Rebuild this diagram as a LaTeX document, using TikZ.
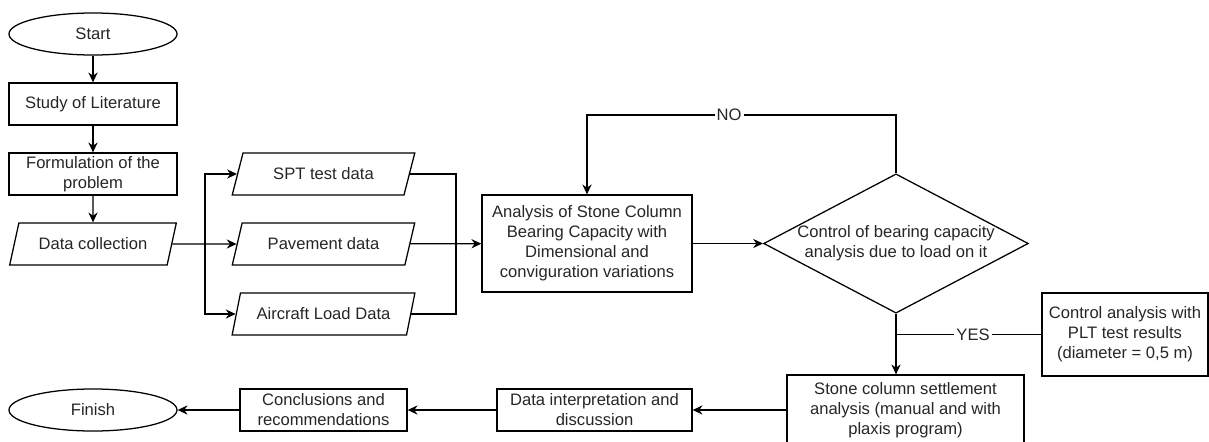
\documentclass[tikz,border=0pt]{standalone}
\usepackage{fontspec}
\setmainfont{Liberation Sans}
\usetikzlibrary{shapes.geometric,arrows.meta}

\begin{document}
\begin{tikzpicture}[x=0.025cm, y=-0.025cm, line width=0.9pt,
		every node/.style={font=\fontsize{11.8}{14.2}\selectfont, text=black!85, align=center, inner sep=0pt},
		terminal/.style={draw, ellipse, minimum width=4.2cm, minimum height=1.05cm},
		process/.style={draw, rectangle, minimum height=1.05cm},
		datain/.style={draw, trapezium, trapezium left angle=61, trapezium right angle=119, trapezium stretches=true, minimum height=1.05cm},
		decision/.style={draw, diamond, aspect=1.9, minimum width=6.6cm, minimum height=3.475cm},
		flow/.style={-{Stealth[length=7pt, width=6.5pt]}},
		tag/.style={fill=white, inner xsep=1.5pt}]
			\useasboundingbox (0,0) rectangle (1209,441);
			\node[terminal] (start) at (93,34) {Start};
			\node[process, minimum width=4.2cm] (lit) at (93,104) {Study of Literature};
			\node[process, minimum width=4.2cm] (form) at (93,174) {Formulation of the\\problem};
			\node[datain, minimum width=4.2cm] (coll) at (93,244) {Data collection};
			\node[datain, minimum width=4.575cm] (spt) at (323.5,174) {SPT test data};
			\node[datain, minimum width=4.575cm] (pave) at (323.5,244) {Pavement data};
			\node[datain, minimum width=4.575cm] (air) at (323.5,314) {Aircraft Load Data};
			\node[process, minimum width=5.25cm, minimum height=2.425cm] (ana) at (587,243.5) {Analysis of Stone Column\\Bearing Capacity with\\Dimensional and\\conviguration variations};
			\node[decision] (ctrl) at (896,243.5) {Control of bearing capacity\\analysis due to load on it};
			\node[process, minimum width=4.15cm, minimum height=2.075cm] (plt) at (1125,334.5) {Control analysis with\\PLT test results\\(diameter = 0,5 m)};
			\node[process, minimum width=5.925cm, minimum height=1.75cm] (stone) at (905.5,410) {Stone column settlement\\analysis (manual and with\\plaxis program)};
			\node[process, minimum width=4.875cm] (interp) at (594.5,410) {Data interpretation and\\discussion};
			\node[process, minimum width=4.175cm] (concl) at (323.5,410) {Conclusions and\\recommendations};
			\node[terminal] (finish) at (93,410) {Finish};
			\coordinate (split) at (205,244);
			\coordinate (join) at (456,244);
			\coordinate (noturn) at (587,115);
			\draw[flow] (start) -- (lit);
			\draw[flow] (lit) -- (form);
			\draw[flow] (form) -- (coll);
			\draw[flow] (coll) -- (pave);
			\draw[flow] (split) |- (spt);
			\draw[flow] (split) |- (air);
			\draw (spt) -| (join);
			\draw (air) -| (join);
			\draw[flow] (pave) -- (ana);
			\draw[flow] (ana) -- (ctrl);
			\draw[flow] (ctrl.north) |- node[tag, pos=0.77] {NO} (noturn) -- (ana.north);
			\draw[flow] (ctrl.south) -- (ctrl.south |- stone.north);
			\draw (plt.west) -- node[tag, pos=0.47] {YES} (plt.west -| ctrl.south);
			\draw[flow] (stone.west) -- (interp);
			\draw[flow] (interp) -- (concl);
			\draw[flow] (concl) -- (finish);
		\end{tikzpicture}
\end{document}
